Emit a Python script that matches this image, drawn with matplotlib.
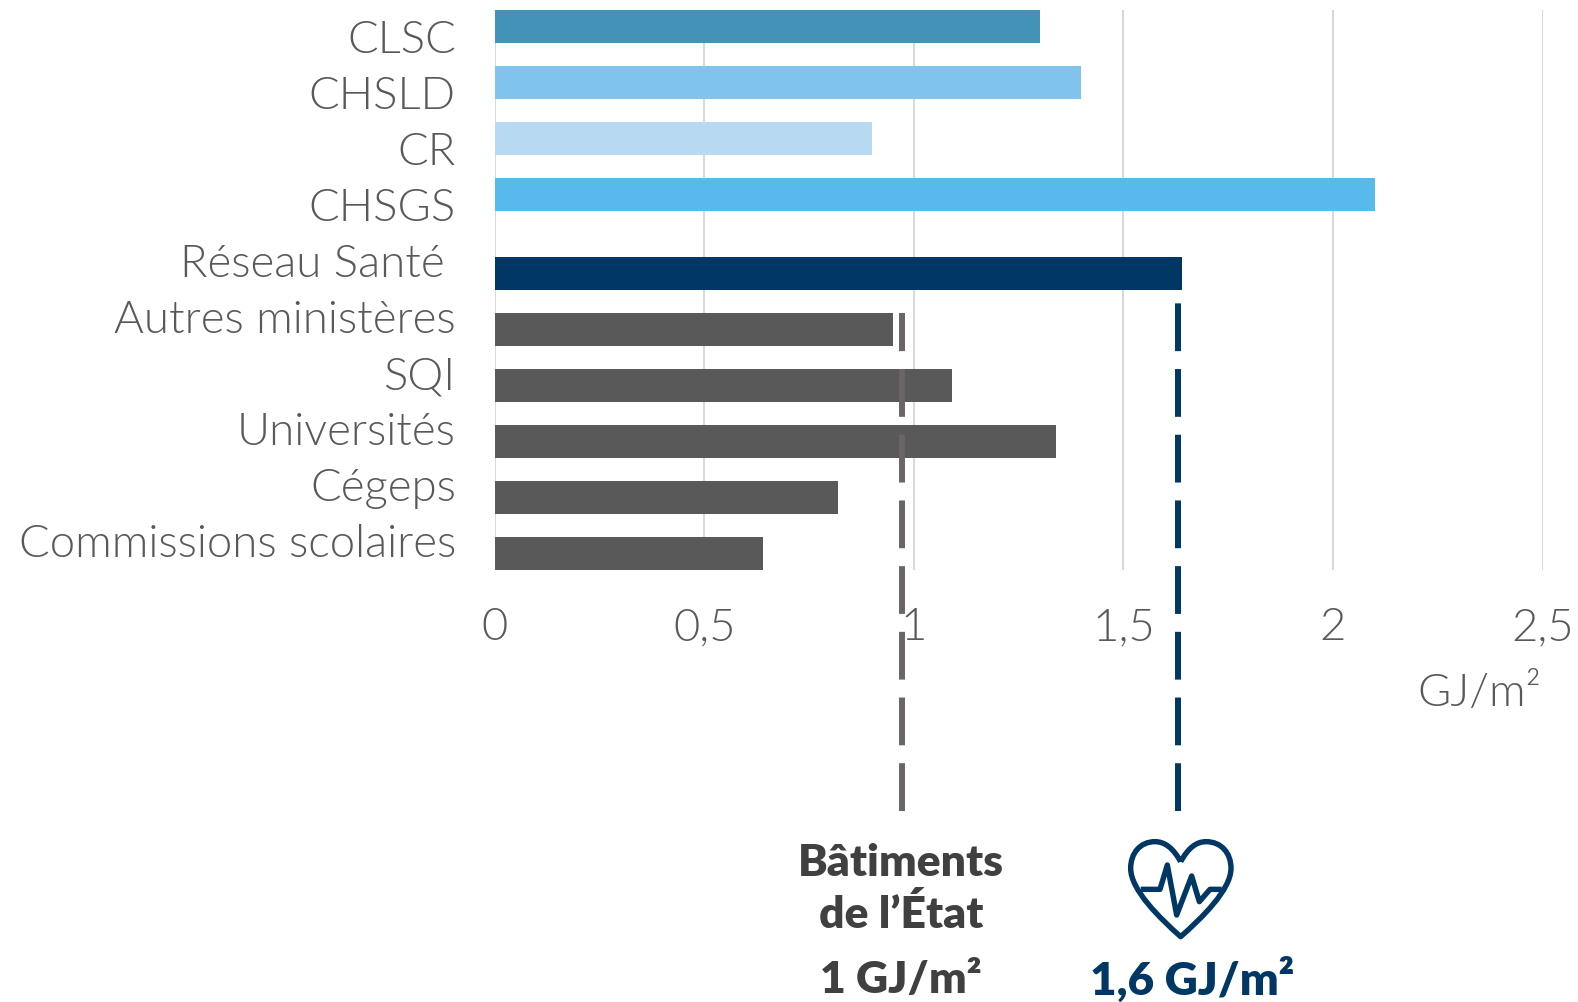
import matplotlib
matplotlib.use("Agg")
import matplotlib.pyplot as plt
from matplotlib.path import Path
from matplotlib.patches import PathPatch
from matplotlib.transforms import blended_transform_factory, ScaledTranslation

categories = ["CLSC", "CHSLD", "CR", "CHSGS", "Réseau Santé",
              "Autres ministères", "SQI", "Universités", "Cégeps", "Commissions scolaires"]
values = [1.30, 1.40, 0.90, 2.10, 1.64, 0.95, 1.09, 1.34, 0.82, 0.64]
colors = ["#4393B9", "#80C4EE", "#B7DAF2", "#57B9EC", "#003764",
          "#595959", "#595959", "#595959", "#595959", "#595959"]
bar_shift = [-0.205, -0.205, -0.205, -0.205, 0.205, 0.205, 0.205, 0.205, 0.205, 0.205]
xticks = [0, 0.5, 1, 1.5, 2, 2.5]
xticklabels = ["0", "0,5", "1", "1,5", "2", "2,5"]
ref_state = 0.972
ref_health = 1.63

W, H = 1578, 1002
TXT = "#595959"
NAVY = "#003764"
DARK = "#404040"
FONT = "Lato"

fig = plt.figure(figsize=(W / 100, H / 100), dpi=100)
ax = fig.add_axes([494.7 / W, 1 - 570 / H, (1542.5 - 494.7) / W, 560 / H])
ax.set_xlim(0, 2.5)
ax.set_ylim(9.5, -0.5)

ypos = [i + s for i, s in enumerate(bar_shift)]
ax.barh(ypos, values, height=0.59, color=colors, zorder=3)

for s in ax.spines.values():
    s.set_visible(False)
ax.set_axisbelow(True)
ax.xaxis.grid(True, color="#D9D9D9", linewidth=1.5, zorder=0)
ax.yaxis.grid(False)
ax.set_xticks(xticks, xticklabels)
ax.set_yticks(range(len(categories)), categories)
ax.tick_params(axis="both", length=0, labelcolor=TXT)
ax.tick_params(axis="y", pad=28)
ax.tick_params(axis="x", pad=26.7)
for t in ax.get_xticklabels() + ax.get_yticklabels():
    t.set_fontfamily(FONT)
    t.set_fontweight(300)
    t.set_fontsize(32.8)
for t in ax.get_yticklabels():
    dx = -11 if t.get_text() == "Réseau Santé" else 0
    t.set_transform(t.get_transform() + ScaledTranslation(dx / 100, 1.5 / 100, fig.dpi_scale_trans))

# Reference lines running below the axis
tr = blended_transform_factory(ax.transData, fig.transFigure)
for xv, top, col in [(ref_state, 313, "#6B6665"), (ref_health, 300, NAVY)]:
    ax.plot([xv, xv], [1 - 811 / H, 1 - top / H], transform=tr, color=col, lw=4.3,
            dashes=(8, 3), dash_capstyle="butt", clip_on=False, zorder=4)


def px_text(x, y, s, **kw):
    fig.text(x / W, 1 - y / H, s, family=FONT, va="baseline", **kw)


px_text(1541.5, 706, "GJ/m²", ha="right", color=TXT, fontsize=32.8, fontweight=300)
px_text(901, 876, "Bâtiments", ha="center", color=DARK, fontsize=32, fontweight=800)
px_text(901, 928, "de l’État", ha="center", color=DARK, fontsize=32, fontweight=800)
px_text(901, 993, "1 GJ/m²", ha="center", color=DARK, fontsize=32, fontweight=800)
px_text(1192, 995, "1,6 GJ/m²", ha="center", color=NAVY, fontsize=33, fontweight=800)

# Heart icon, drawn in its own small axes
icon = fig.add_axes([1080 / W, 1 - 1002 / H, 240 / W, 202 / H])
icon.set_xlim(0, 720)
icon.set_ylim(606, 0)
icon.axis("off")
heart = Path(
    [(302, 185), (280, 145), (255, 125), (225, 125),
     (180, 125), (152, 160), (152, 205),
     (152, 270), (240, 355), (302, 410),
     (364, 355), (453, 270), (453, 205),
     (453, 160), (425, 125), (378, 125),
     (348, 125), (324, 145), (302, 185)],
    [Path.MOVETO] + [Path.CURVE4] * 18)
icon.add_patch(PathPatch(heart, fc="none", ec=NAVY, lw=3.9, joinstyle="round"))
ecg_x = [182, 240, 262, 290, 335, 358, 390, 425]
ecg_y = [268, 268, 195, 345, 228, 305, 268, 268]
icon.plot(ecg_x, ecg_y, color=NAVY, lw=3.9, solid_joinstyle="round", solid_capstyle="butt")

fig.savefig("out.png", dpi=100)
